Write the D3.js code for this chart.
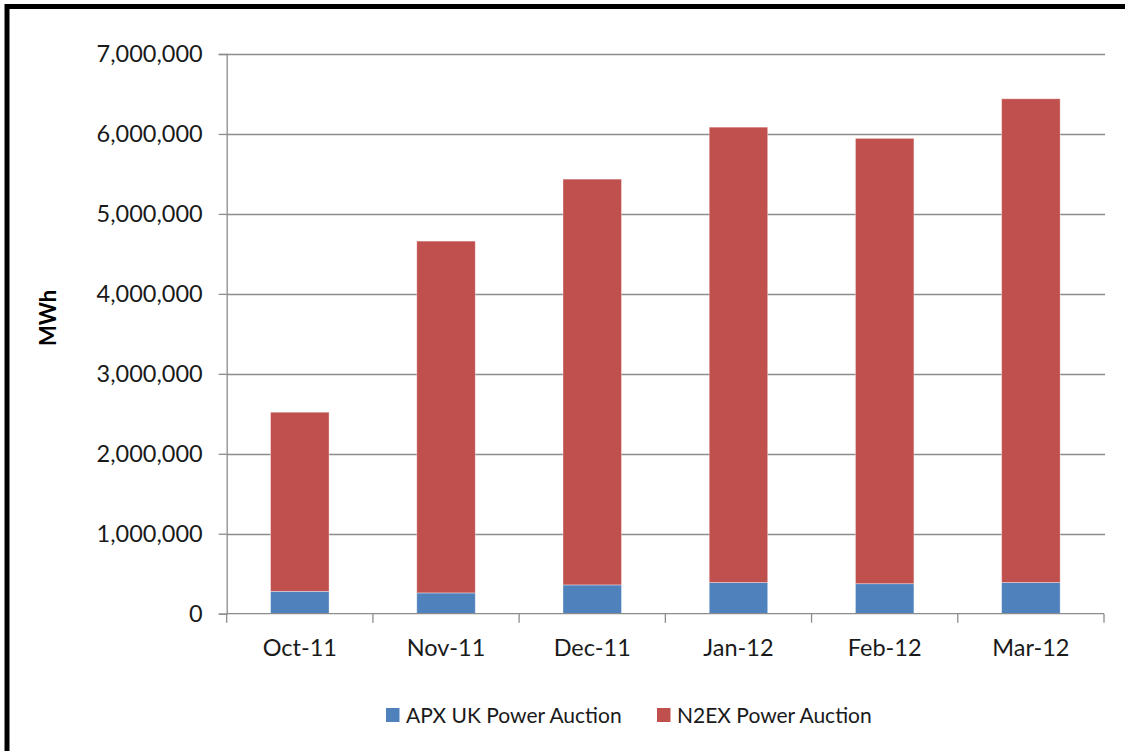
<!DOCTYPE html>
<html>
<head>
<meta charset="utf-8">
<script src="https://cdn.jsdelivr.net/npm/d3@7"></script>
<style>
  html, body { margin: 0; padding: 0; background: #fff; }
  svg { display: block; font-family: Lato, "Open Sans", sans-serif; }
</style>
</head>
<body>
<svg id="chart"></svg>
<script>
'use strict'

const WIDTH = 1125;
const HEIGHT = 751;

// data
const months = ['Oct-11', 'Nov-11', 'Dec-11', 'Jan-12', 'Feb-12', 'Mar-12'];
const apxValues = [280000, 260000, 360000, 390000, 375000, 390000];
const n2exValues = [2240000, 4400000, 5075000, 5695000, 5570000, 6050000];
const seriesNames = ['APX UK Power Auction', 'N2EX Power Auction'];
const seriesColors = ['#4F81BD', '#C0504D'];
const yTicks = [0, 1000000, 2000000, 3000000, 4000000, 5000000, 6000000, 7000000];

const svg = d3.select('#chart')
  .attr('width', WIDTH)
  .attr('height', HEIGHT);

svg.append('rect')
  .attr('width', WIDTH)
  .attr('height', HEIGHT)
  .attr('fill', '#fff');

// thick black frame, right and bottom run off the picture
svg.append('rect')
  .attr('x', 7)
  .attr('y', 6.5)
  .attr('width', WIDTH + 20)
  .attr('height', HEIGHT + 20)
  .attr('fill', 'none')
  .attr('stroke', '#000')
  .attr('stroke-width', 5);

const plotLeft = 226.7, plotRight = 1104, plotTop = 54, plotBottom = 613.7;

const yScale = d3.scaleLinear()
  .domain([0, 7000000])
  .range([plotBottom, plotTop]);

const xScale = d3.scaleBand()
  .domain(months)
  .range([plotLeft, plotRight])
  .paddingInner(0.6)
  .paddingOuter(0.3);

// gridlines
svg.append('g')
  .selectAll('line')
  .data(yTicks.slice(1))
  .enter().append('line')
  .attr('x1', plotLeft)
  .attr('x2', plotRight + 1)
  .attr('y1', d => Math.round(yScale(d)) + 0.5)
  .attr('y2', d => Math.round(yScale(d)) + 0.5)
  .attr('stroke', '#8c8c8c')
  .attr('stroke-width', 1.3);

// stacked bars
const rows = months.map((m, i) => ({ month: m, apx: apxValues[i], n2ex: n2exValues[i] }));
const stack = d3.stack().keys(['apx', 'n2ex'])(rows);

svg.append('g')
  .selectAll('g')
  .data(stack)
  .enter().append('g')
  .attr('fill', (d, i) => seriesColors[i])
  .selectAll('rect')
  .data(d => d)
  .enter().append('rect')
  .attr('x', d => xScale(d.data.month))
  .attr('width', xScale.bandwidth())
  .attr('y', d => yScale(d[1]))
  .attr('height', d => yScale(d[0]) - yScale(d[1]))
  .attr('stroke', 'rgba(255,255,255,0.45)')
  .attr('stroke-width', 0.8);

// y axis
const leftAxis = d3.axisLeft(yScale)
  .tickValues(yTicks)
  .tickSize(8)
  .tickPadding(16)
  .tickFormat(d3.format(','));

const yAxis = svg.append('g')
  .attr('transform', 'translate(' + plotLeft + ',0)')
  .call(leftAxis);
yAxis.select('.domain').attr('stroke', '#8c8c8c').attr('stroke-width', 1.3);
yAxis.selectAll('.tick line').attr('stroke', '#8c8c8c').attr('stroke-width', 1.3);
yAxis.selectAll('.tick text')
  .attr('fill', '#1a1a1a')
  .style('font-size', '23.5px')
  .style('font-family', 'Lato, sans-serif');

// x axis: ticks on category boundaries
const xAxisG = svg.append('g');
xAxisG.append('line')
  .attr('x1', plotLeft).attr('x2', plotRight)
  .attr('y1', plotBottom).attr('y2', plotBottom)
  .attr('stroke', '#8c8c8c')
  .attr('stroke-width', 1.3);
xAxisG.selectAll('line.tick')
  .data(d3.range(months.length + 1))
  .enter().append('line')
  .attr('class', 'tick')
  .attr('x1', i => plotLeft + i * xScale.step())
  .attr('x2', i => plotLeft + i * xScale.step())
  .attr('y1', plotBottom)
  .attr('y2', plotBottom + 9)
  .attr('stroke', '#8c8c8c')
  .attr('stroke-width', 1.3);
xAxisG.selectAll('text')
  .data(months)
  .enter().append('text')
  .attr('x', d => xScale(d) + xScale.bandwidth() / 2)
  .attr('y', 656)
  .attr('text-anchor', 'middle')
  .attr('fill', '#1a1a1a')
  .style('font-size', '23.5px')
  .text(d => d);

// y axis title
svg.append('text')
  .attr('transform', 'translate(56,318) rotate(-90)')
  .attr('text-anchor', 'middle')
  .attr('fill', '#000')
  .style('font-size', '22px')
  .style('font-weight', 'bold')
  .text('MWh');

// legend
const legendX = [386, 657];
const legend = svg.append('g')
  .selectAll('g')
  .data(seriesNames)
  .enter().append('g')
  .attr('transform', (d, i) => 'translate(' + legendX[i] + ',708)');
legend.append('rect')
  .attr('width', 13.5)
  .attr('height', 14)
  .attr('fill', (d, i) => seriesColors[i]);
legend.append('text')
  .attr('x', 20)
  .attr('y', 14.5)
  .attr('fill', '#1a1a1a')
  .style('font-size', '21px')
  .text(d => d);
</script>
</body>
</html>
